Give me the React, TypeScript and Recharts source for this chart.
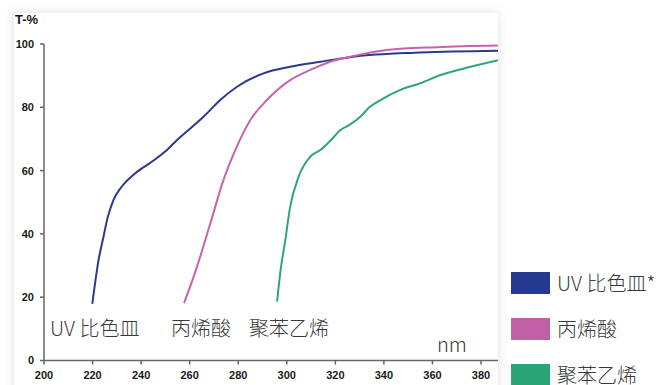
import React from 'react';
import { LineChart, Line, XAxis, YAxis } from 'recharts';

// transmission spectra (nm, T-%)
const uvNm = [219.9, 222.4, 224.5, 226.3, 228.6, 232, 237.5, 244.4, 249.9, 254.7, 265.7, 272.6, 279.5, 290.4, 301.4, 313.8, 327.5, 355, 387];
const uvT = [17.9, 31.4, 39.1, 45.4, 50.7, 54.9, 59.1, 62.8, 66, 69.6, 77, 82.3, 86.5, 90.7, 92.8, 94.4, 96, 97.3, 97.9];

const acrylicNm = [257.7, 263, 268.5, 273.9, 278.8, 285, 291.8, 301.4, 309.7, 317.9, 326.2, 341.3, 361.9, 387];
const acrylicT = [18.1, 29.6, 43.3, 57, 66.5, 76, 82.3, 88.6, 91.8, 94.4, 96, 98.1, 99, 99.5];

const psNm = [296, 297.3, 299.4, 301.4, 304.9, 309.7, 313.8, 318, 322.1, 326, 330.3, 334, 338.6, 346.8, 355, 363.3, 375.7, 387];
const psT = [18.6, 27.6, 38.1, 48.6, 58.1, 64.4, 66.5, 69.5, 72.8, 74.5, 77, 80, 82.3, 85.5, 87.6, 90.2, 92.8, 94.9];

const xTicks = [200, 220, 240, 260, 280, 300, 320, 340, 360, 380];
const yTicks = [0, 20, 40, 60, 80, 100];

const seriesNames = ['UV 比色皿*', '丙烯酸', '聚苯乙烯'];
const curveLabels = ['UV 比色皿', '丙烯酸', '聚苯乙烯'];
const lineColors = ['#2d3a8c', '#c862ad', '#2fa57a'];
const legendColors = ['#253a8e', '#c060a6', '#2aa676'];

const toPoints = (nm: number[], t: number[]) => nm.map((x, i) => ({ nm: x, t: t[i] }));

const series = [toPoints(uvNm, uvT), toPoints(acrylicNm, acrylicT), toPoints(psNm, psT)];

const tickStyle = { fontFamily: '"Liberation Sans", Arial, sans-serif', fontSize: 11, fontWeight: 700, fill: '#1a1a1a' };
const cjk = '"Noto Sans CJK SC", "Noto Sans", sans-serif';
const labelStyle: React.CSSProperties = {
    position: 'absolute',
    fontFamily: cjk,
    fontWeight: 300,
    fontSize: 20,
    color: '#3a3a3a',
    whiteSpace: 'nowrap',
};

const LegendBox = () => (
    <div style={{ position: 'absolute', left: 511, top: 272, fontFamily: cjk, fontWeight: 300, fontSize: 20, color: '#3a3a3a' }}>
        {seriesNames.map((name, i) => (
            <div key={name} style={{ display: 'flex', alignItems: 'center', height: 22, marginBottom: 24 }}>
                <div style={{ width: 39, height: 22, background: legendColors[i], marginRight: 7 }} />
                <span style={{ lineHeight: '22px', whiteSpace: 'nowrap' }}>{name}</span>
            </div>
        ))}
    </div>
);

const App = () => (
    <div style={{ position: 'absolute', left: 0, top: 0, width: 663, height: 385, background: '#fff', overflow: 'hidden' }}>
        <div
            style={{
                position: 'absolute',
                left: 14,
                top: 13,
                width: 484,
                height: 390,
                background: '#fff',
                boxShadow: '0 0 10px rgba(0,0,0,0.13)',
            }}
        />
        <div style={{ position: 'absolute', left: 15, top: 12, fontFamily: tickStyle.fontFamily, fontWeight: 700, fontSize: 13, color: '#1a1a1a' }}>
            T-%
        </div>
        <div style={{ ...labelStyle, left: 50, top: 313 }}>{curveLabels[0]}</div>
        <div style={{ ...labelStyle, left: 171, top: 313 }}>{curveLabels[1]}</div>
        <div style={{ ...labelStyle, left: 249, top: 313 }}>{curveLabels[2]}</div>
        <div style={{ ...labelStyle, left: 437, top: 329 }}>nm</div>
        <div style={{ position: 'absolute', left: 0, top: 0 }}>
            <LineChart width={663} height={385} margin={{ top: 44, right: 165, left: 0, bottom: 0 }}>
                <XAxis
                    dataKey="nm"
                    type="number"
                    domain={[200, 387]}
                    ticks={xTicks}
                    allowDataOverflow
                    height={24.5}
                    tick={tickStyle}
                    tickSize={4}
                    tickMargin={7}
                    stroke="#666"
                    strokeWidth={1.5}
                    interval={0}
                />
                <YAxis
                    dataKey="t"
                    type="number"
                    domain={[0, 100]}
                    ticks={yTicks}
                    width={44}
                    tick={tickStyle}
                    tickSize={4}
                    tickMargin={6}
                    stroke="#666"
                    strokeWidth={1.5}
                    interval={0}
                />
                {series.map((pts, i) => (
                    <Line
                        key={seriesNames[i]}
                        data={pts}
                        dataKey="t"
                        name={seriesNames[i]}
                        type="monotone"
                        stroke={lineColors[i]}
                        strokeWidth={2}
                        dot={false}
                        isAnimationActive={false}
                    />
                ))}
            </LineChart>
        </div>
        <LegendBox />
    </div>
);

export default App;
